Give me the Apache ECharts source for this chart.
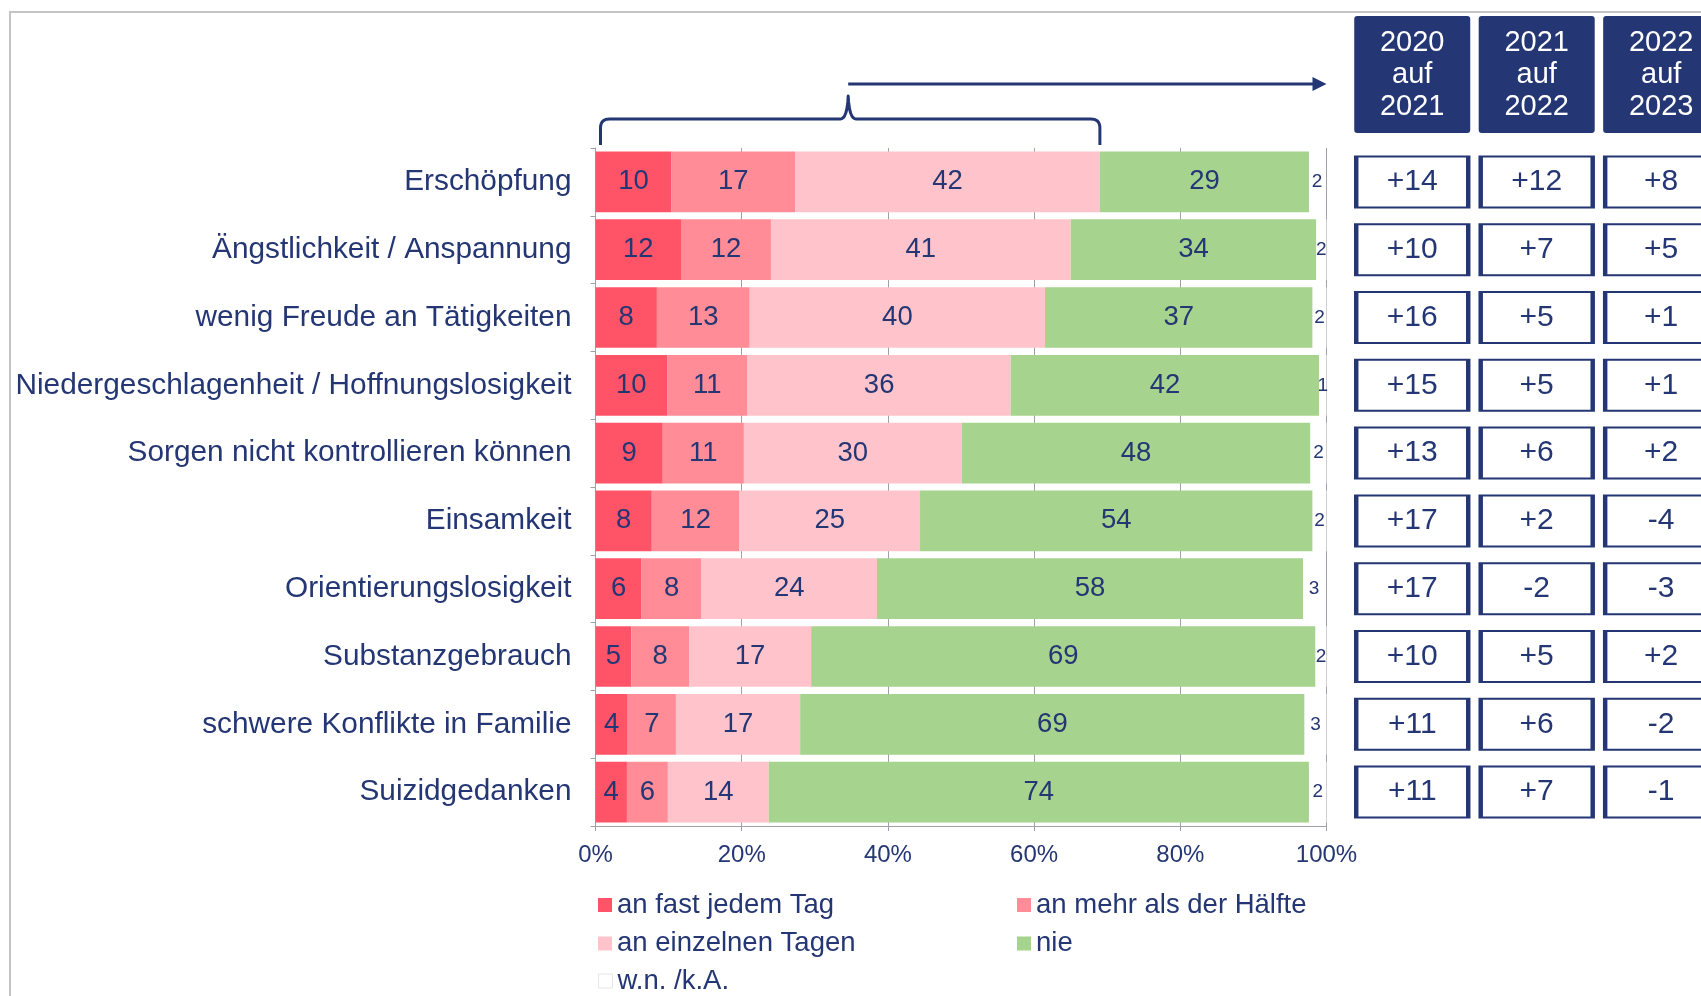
<!DOCTYPE html>
<html>
<head>
<meta charset="utf-8">
<script src="https://cdn.jsdelivr.net/npm/echarts@6/dist/echarts.min.js"></script>
<style>
  html, body { margin: 0; padding: 0; background: #fff; }
  #main { width: 1701px; height: 996px; }
</style>
</head>
<body>
<div id="main"></div>
<script>
// Kategorien (von oben nach unten)
var categories = [
  'Erschöpfung',
  'Ängstlichkeit / Anspannung',
  'wenig Freude an Tätigkeiten',
  'Niedergeschlagenheit / Hoffnungslosigkeit',
  'Sorgen nicht kontrollieren können',
  'Einsamkeit',
  'Orientierungslosigkeit',
  'Substanzgebrauch',
  'schwere Konflikte in Familie',
  'Suizidgedanken'
];

// Anteile in %, aus dem Bild geschätzt
var fastJedemTag   = [10.4, 11.7, 8.4, 9.8, 9.2, 7.7, 6.3, 4.9, 4.4, 4.3];
var mehrAlsHaelfte = [16.9, 12.3, 12.7, 11.0, 11.1, 12.0, 8.2, 7.9, 6.6, 5.6];
var einzelneTage   = [41.7, 41.0, 40.4, 36.0, 29.8, 24.7, 24.0, 16.7, 17.0, 13.8];
var nie            = [28.6, 33.6, 36.6, 42.2, 47.7, 53.7, 58.3, 69.0, 69.0, 73.9];
var wnka           = [2.2, 1.5, 1.9, 1.0, 2.2, 1.9, 3.0, 1.5, 3.0, 2.4];

// Veränderungen (Prozentpunkte)
var tableHeaders = ['2020\nauf\n2021', '2021\nauf\n2022', '2022\nauf\n2023'];
var diff2021 = [14, 10, 16, 15, 13, 17, 17, 10, 11, 11];
var diff2022 = [12, 7, 5, 5, 6, 2, -2, 5, 6, 7];
var diff2023 = [8, 5, 1, 1, 2, -4, -3, 2, -2, -1];

var navy = '#243673';
var gridGray = '#a0a0a8';
var font = "'Liberation Sans', Arial, sans-serif";

var myChart = echarts.init(document.getElementById('main'));

function barSeries(name, data, color, size) {
    return {
        name: name,
        type: 'bar',
        stack: 'total',
        xAxisIndex: 0,
        yAxisIndex: 0,
        barCategoryGap: '10.5%',
        data: data,
        itemStyle: { color: color },
        label: {
            show: true,
            position: 'inside',
            color: navy,
            fontFamily: font,
            fontSize: size,
            formatter: function (p) { return Math.round(p.value); }
        },
        emphasis: { disabled: true }
    };
}

function legendBox(left, top, data) {
    return {
        left: left, top: top, orient: 'vertical', itemGap: 10.5, padding: 0,
        icon: 'rect', itemWidth: 14, itemHeight: 14, itemTextGap: 6,
        textStyle: { color: navy, fontSize: 27.5, fontFamily: font },
        data: data
    };
}

// Tabelle rechts: scatter mit Rechtecken, Spalte = x, Zeile = y
var cells = [];
[diff2021, diff2022, diff2023].forEach(function (col, c) {
    col.forEach(function (v, r) { cells.push([c, r, v]); });
});

var option = {
    animation: false,
    textStyle: { fontFamily: font },
    grid: [
        { left: 595.5, top: 148, width: 731, height: 678, outerBoundsMode: 'none' },
        { left: 1350, top: 148, width: 351, height: 678, outerBoundsMode: 'none' }
    ],
    legend: [
        legendBox(598, 891, ['an fast jedem Tag', 'an einzelnen Tagen']),
        legendBox(1017, 891, ['an mehr als der Hälfte', 'nie']),
        legendBox(598, 967, [{ name: 'w.n. /k.A.', itemStyle: { borderColor: '#e6e6e6', borderWidth: 1 } }])
    ],
    xAxis: [
        {
            type: 'value', gridIndex: 0, min: 0, max: 100, interval: 20,
            axisLine: { show: true, lineStyle: { color: gridGray } },
            axisTick: { show: true, length: 5, lineStyle: { color: gridGray } },
            splitLine: { show: true, lineStyle: { color: gridGray, width: 1 } },
            axisLabel: { color: navy, fontSize: 24, margin: 17, formatter: '{value}%' }
        },
        {
            type: 'value', gridIndex: 1, position: 'top',
            min: -0.5, max: 2.32,
            axisLine: { show: false }, axisTick: { show: false }, splitLine: { show: false },
            axisLabel: {
                customValues: [0, 1, 2],
                formatter: function (v) { return tableHeaders[Math.round(v)]; },
                margin: 15,
                color: '#fff', fontSize: 29, lineHeight: 32,
                backgroundColor: navy, borderRadius: 3,
                width: 116, padding: [11, 0, 10, 0], align: 'center'
            }
        }
    ],
    yAxis: [
        {
            type: 'category', gridIndex: 0, inverse: true, data: categories,
            axisLine: { show: true, lineStyle: { color: gridGray } },
            axisTick: { show: true, length: 5, lineStyle: { color: gridGray } },
            axisLabel: { color: navy, fontSize: 29.8, margin: 24 }
        },
        {
            type: 'category', gridIndex: 1, inverse: true, data: categories, show: false
        }
    ],
    series: [
        barSeries('an fast jedem Tag', fastJedemTag, '#ff5468', 27.5),
        barSeries('an mehr als der Hälfte', mehrAlsHaelfte, '#ff8c96', 27.5),
        barSeries('an einzelnen Tagen', einzelneTage, '#ffc4cb', 27.5),
        barSeries('nie', nie, '#a6d38d', 27.5),
        barSeries('w.n. /k.A.', wnka, '#ffffff', 19),
        {
            type: 'scatter',
            xAxisIndex: 1,
            yAxisIndex: 1,
            data: cells,
            symbol: 'rect',
            symbolSize: [112, 51],
            itemStyle: { color: '#fff', borderColor: navy, borderWidth: 3, opacity: 1 },
            label: {
                show: true, position: 'inside', color: navy, fontSize: 30,
                formatter: function (p) {
                    var v = p.value[2];
                    return (v > 0 ? '+' : '') + v;
                }
            },
            emphasis: { disabled: true },
            silent: true
        }
    ]
};
myChart.setOption(option);

// Klammer und Pfeil oben
var x0 = myChart.convertToPixel({ xAxisIndex: 0 }, 0) + 5;
var x1 = myChart.convertToPixel({ xAxisIndex: 0 }, fastJedemTag[0] + mehrAlsHaelfte[0] + einzelneTage[0]);
var x100 = myChart.convertToPixel({ xAxisIndex: 0 }, 100);
var xm = (x0 + x1) / 2 - 2;
var yb = 119;

function quad(pts, a, b, c) {
    for (var i = 1; i <= 8; i++) {
        var t = i / 8, u = 1 - t;
        pts.push([u * u * a[0] + 2 * u * t * b[0] + t * t * c[0],
                  u * u * a[1] + 2 * u * t * b[1] + t * t * c[1]]);
    }
}
var brace = [[x0, 145], [x0, 128]];
quad(brace, [x0, 128], [x0, yb], [x0 + 9, yb]);
brace.push([xm - 8, yb]);
quad(brace, [xm - 8, yb], [xm - 1, yb], [xm, 96]);
quad(brace, [xm, 96], [xm + 1, yb], [xm + 8, yb]);
brace.push([x1 - 9, yb]);
quad(brace, [x1 - 9, yb], [x1, yb], [x1, 128]);
brace.push([x1, 145]);

myChart.setOption({
    graphic: [
        {
            type: 'rect', z: -10, silent: true,
            shape: { x: 10, y: 12, width: 1800, height: 1100 },
            style: { fill: 'none', stroke: '#c4c4c4', lineWidth: 2 }
        },
        {
            type: 'polyline', silent: true,
            shape: { points: brace },
            style: { fill: null, stroke: navy, lineWidth: 3, lineJoin: 'round' }
        },
        {
            type: 'line', silent: true,
            shape: { x1: xm, y1: 84, x2: x100 - 10, y2: 84 },
            style: { stroke: navy, lineWidth: 3 }
        },
        {
            type: 'polygon', silent: true,
            shape: { points: [[x100 - 14, 77], [x100, 84], [x100 - 14, 91]] },
            style: { fill: navy }
        }
    ]
});
</script>
</body>
</html>
